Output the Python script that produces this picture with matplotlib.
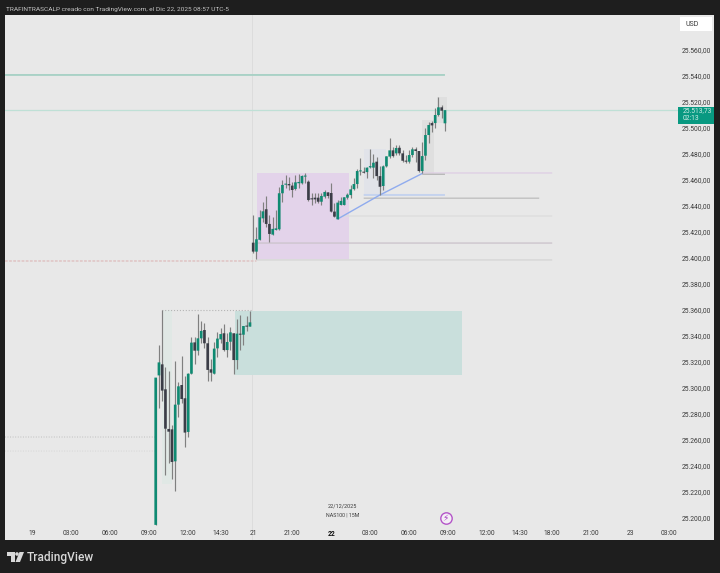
import matplotlib
matplotlib.use("Agg")
import matplotlib.pyplot as plt
from matplotlib.patches import Rectangle, Polygon, Ellipse

# ---- data (15 min candles; x = bar number) ----
opens = [25194.7,25309.7,25318.2,25299,25268.5,25268.2,25243.6,25287.2,25302.3,25292.1,
         25266.2,25311,25335.1,25328.7,25338.2,25344.6,25334.4,25314.4,25311,25330.5,
         25337.4,25342.1,25329.2,25335.6,25342.1,25321.5,25341.8,25341,25347.7,25347.2,
         25411.8,25404.9,25414,25430.5,25437.5,25426.2,25418,25421.6,25422.1,25449.8,
         25456.4,25456.9,25455.7,25453.1,25457.5,25457.5,25462.6,25458.7,25445.9,25446.4,
         25446.4,25443.3,25447.2,25450.5,25450,25435.7,25429.8,25440.8,25440.8,25446.4,
         25448.4,25453,25456.9,25466.6,25466.1,25466.1,25469.7,25469.5,25474.1,25463,
         25455.4,25470.5,25478,25482.8,25480.5,25484.8,25480.5,25474.8,25474.1,25479.2,
         25483.6,25482.3,25466.9,25478.7,25494.6,25503.8,25503.8,25510,25515.9,25503.6]
highs = [25308,25333,25360,25316.4,25313.1,25271.5,25320.8,25304.9,25324.9,25309.2,
         25311.8,25339.5,25339.5,25356.9,25351.8,25349.8,25339,25322.1,25335.7,25343.3,
         25345.9,25349.2,25342.1,25347.2,25342.1,25352.8,25356.2,25347.7,25355.4,25359.2,
         25433.1,25424.1,25436.9,25443.4,25447.7,25433.1,25431.8,25436.9,25454.9,25460,
         25463.9,25462.6,25458.7,25463.9,25464.6,25463.9,25465.7,25460,25449.8,25449.8,
         25449.8,25449.8,25452.3,25451,25457.5,25442.1,25444.6,25447.2,25447.2,25450.3,
         25456.1,25461.3,25468.2,25476.6,25469.7,25469.7,25483.6,25479.7,25477.9,25470.7,
         25471.3,25478.4,25492,25485.6,25486.9,25486.9,25483,25479.2,25483,25485.6,
         25485.6,25482.5,25489.5,25499.7,25504.8,25505.6,25515.1,25523.6,25517.7,25513.73]
lows = [25194.7,25285,25290.3,25233.1,25242.1,25230,25220.8,25277.4,25288.2,25254.9,
        25262.6,25310.8,25318.2,25325.4,25334.4,25330.5,25305.4,25305.4,25310.8,25324.1,
        25334.4,25328.7,25324.1,25329.2,25310.8,25314.4,25329.2,25333.1,25343.9,25347.7,
        25404.1,25399,25413.9,25428,25424.1,25412.6,25417.7,25421.6,25421.6,25443.4,
        25453.6,25452.3,25447.2,25452.3,25453.6,25456.9,25457.5,25444.1,25440.8,25442,
        25442,25440.8,25445.9,25445.9,25435.7,25431.3,25429.8,25440.8,25440.8,25445.1,
        25445.9,25452.3,25453.6,25463.8,25465.1,25461.3,25468.9,25461.3,25460,25448.4,
        25452.3,25470.2,25476.6,25477.9,25479.2,25479.2,25474.1,25473.3,25473.3,25477.9,
        25474.1,25466.4,25465.1,25475.4,25488.2,25497.1,25499.7,25509.2,25507.4,25497.9]
closes = [25308,25319.7,25298,25268.7,25266.4,25243.1,25287.2,25301.3,25291.5,25265.7,
          25311,25334.9,25328.7,25338.2,25343.9,25334.4,25313.9,25311.8,25330.3,25338,
          25341.5,25329.2,25335.4,25342.8,25321.5,25341.8,25341,25347.7,25347.2,25350.5,
          25404.9,25414.4,25431.3,25435.9,25426.2,25418.5,25422.4,25422.8,25449.8,25456.2,
          25457.2,25455.9,25452.3,25458.2,25458.5,25463.1,25463.4,25444.6,25445.1,25445.1,
          25443.3,25447.7,25450.8,25447.7,25435.7,25431.8,25442.6,25443.9,25446.7,25448.7,
          25452.8,25456.9,25466.9,25467.4,25465.6,25469.5,25470.7,25473.3,25463,25454.8,
          25470.5,25478.2,25482.8,25478.4,25484.6,25480.5,25474.8,25474.1,25479.2,25483.6,
          25482.3,25466.9,25478.4,25494.6,25502.3,25502,25510,25515.9,25513.3,25513.73]

last_price = 25513.73
countdown = "02:13"
price_ticks = list(range(25200, 25561, 20))
time_tick_bars = [-38,-26,-14,-2,10,20,30,42,54,66,78,90,102,112,122,134,146,158]
time_tick_labels = ["19","03:00","06:00","09:00","12:00","14:30","21","21:00","22",
                    "03:00","06:00","09:00","12:00","14:30","18:00","21:00","23","03:00"]

# zones: bar start, bar end, price low, price high, colour
zones = [(2,5.1,25225.9,25359.9,"#e0e8e5"),
         (64,71,25448,25483.6,"#e1e3e9"),
         (82,85.5,25465,25506,"#dfdfdf"),
         (86.6,89.6,25504,25524,"#dfdfdf"),
         (24.4,94.2,25310,25359.2,"#c9dfdc"),
         (31.1,59.5,25398.9,25465.6,"#e3d3ea")]
# levels: bar start, bar end, price, colour, width, style
levels = [(-46.4,89,25540.8,"#a6d0c4",1.3,"-"),
          (82,122,25465.4,"#dfcfe4",1.0,"-"),
          (64,118,25446,"#c0c0c0",1.0,"-"),
          (57,122,25432.3,"#dddddd",1.0,"-"),
          (31,122,25411.5,"#cdc5cd",1.0,"-"),
          (31,122,25398.5,"#d6d6d6",1.0,"-"),
          (-46.4,31,25397.7,"#dfc0c0",1.0,(0,(2,1))),
          (2,29.5,25359.6,"#b5b5b5",0.8,":"),
          (-46.4,0,25262.3,"#bdbdbd",0.7,":"),
          (-46.4,0,25251.5,"#d5d5d5",0.7,":"),
          (64,89,25448.5,"#c5d3ee",1.4,"-"),
          (82,89,25464.4,"#b5b5b5",0.9,"-")]
trend_bars = [56,69,82]
trend_prices = [25430,25448.5,25465]
crosshair_bar = 29.6
date_label = "22/12/2025"
symbol_label = "NAS100 | 15M"
header = "TRAFINTRASCALP creado con TradingView.com, el Dic 22, 2025 08:57 UTC-5"

# ---- style ----
W, H = 720, 573
FRAME = "#1e1e1e"; PANEL = "#e8e8e8"; UP = "#0f8a72"; DOWN = "#3b3d47"; WICK = "#808080"
TXT = "#3a3a3a"
plt.rcParams["font.family"] = ["Roboto", "DejaVu Sans"]


def price_text(p):
    return f"{p:,.2f}".replace(",", "X").replace(".", ",").replace("X", ".")


fig = plt.figure(figsize=(W/100, H/100), dpi=100, facecolor=FRAME)
L, R, T, B = 5, 714, 15, 540
ax = fig.add_axes([L/W, 1-B/H, (R-L)/W, (B-T)/H], facecolor=PANEL)
# bar n sits at 155.7 + 3.25 n px ; price p at 518 - 1.3 (p - 25200) px
ax.set_xlim((L-155.7)/3.25, (R-155.7)/3.25)
ax.set_ylim(25200+(518-B)/1.3, 25200+(518-T)/1.3)
for s in ax.spines.values():
    s.set_visible(False)

ax.yaxis.tick_right()
ax.set_yticks(price_ticks)
ax.set_yticklabels([price_text(p) for p in price_ticks])
ax.tick_params(axis="y", length=0, pad=-23.2, labelsize=4.9, labelcolor=TXT)
ax.set_xticks(time_tick_bars)
ax.set_xticklabels(time_tick_labels)
ax.tick_params(axis="x", length=0, pad=-7.5, labelsize=4.9, labelcolor=TXT)
for t, s in zip(ax.get_xticklabels(), time_tick_labels):
    if s == "22":
        t.set_fontweight("bold")
        t.set_color("#111111")

ax.axvline(crosshair_bar, color="#dcdcdc", lw=0.7, zorder=1)
for x0, x1, lo, hi, c in zones:
    ax.add_patch(Rectangle((x0, lo), x1-x0, hi-lo, facecolor=c, edgecolor="none", zorder=1))
for x0, x1, p, c, lw, ls in levels:
    ln, = ax.plot([x0, x1], [p, p], color=c, lw=lw, ls=ls, zorder=2, solid_capstyle="butt")
    ln.set_snap(False)
ax.plot(trend_bars, trend_prices, color="#8fabee", lw=1.0, zorder=2)
ax.axhline(last_price, color="#bfe0d6", lw=0.9, zorder=2)

bars = list(range(len(opens)))
ax.vlines(bars, lows, highs, color=WICK, lw=0.85, zorder=3)
colors = [UP if c >= o else DOWN for o, c in zip(opens, closes)]
bottoms = [min(o, c) for o, c in zip(opens, closes)]
heights = [max(abs(c-o), 0.8) for o, c in zip(opens, closes)]
body = ax.bar(bars, heights, bottom=bottoms, width=0.82, color=colors, linewidth=0, zorder=4)
for b in body:
    b.set_snap(False)

# price label and currency button
tr = ax.get_yaxis_transform()
ax.add_patch(Rectangle(((678-L)/(R-L), 25503), (R-678)/(R-L), 13.1,
                       transform=tr, facecolor="#089981", edgecolor="none", zorder=7, clip_on=False))
ax.text((682.6-L)/(R-L), last_price-0.3, price_text(last_price),
        transform=tr, ha="left", va="center", fontsize=4.9, color="#cfeee6", zorder=8)
ax.text((682.6-L)/(R-L), 25507.6, countdown, transform=tr, ha="left", va="center",
        fontsize=4.9, color="#cfeee6", zorder=8)
fig.patches.append(Rectangle((680/W, 1-31/H), 32/W, 14/H, transform=fig.transFigure,
                             facecolor="white", edgecolor="none", zorder=5))
fig.text(685/W, 1-24/H, "USD", fontsize=5, color=TXT, va="center", zorder=6)

# watermark and event icon
ax.text(57.5, 25209, date_label, fontsize=4, color=TXT, ha="center", va="center")
ax.text(57.5, 25202.3, symbol_label, fontsize=3.8, color=TXT, ha="center", va="center")
ax.plot([89.3], [25200], marker="o", ms=8.2, mfc="#f4eef6", mec="#b455c8", mew=1.0, zorder=6)
ax.text(89.3, 25200, "\u26A1", family=["DejaVu Sans"], fontsize=6.5, color="#a83fc0",
        ha="center", va="center", zorder=7)

# header and footer
fig.text(6/W, 1-9/H, header, fontsize=4.65, color="#c4c4c4", va="center")
fig.text(27/W, 1-557/H, "TradingView", fontsize=8.6, color="#d8d8d8", va="center", fontweight="medium")
logo = [[(7,552),(14.5,552),(14.5,562),(11,562),(11,556),(7,556)],
        [(19.5,552),(24,552),(20,562),(15.5,562)]]
for poly in logo:
    fig.patches.append(Polygon([(x/W, 1-y/H) for x, y in poly], closed=True, transform=fig.transFigure,
                               facecolor="#d8d8d8", edgecolor="none"))
fig.patches.append(Ellipse((17/W, 1-554/H), 3.6/W, 3.6/H, transform=fig.transFigure,
                           facecolor="#d8d8d8", edgecolor="none"))

fig.savefig("out.png", dpi=100, facecolor=FRAME)
